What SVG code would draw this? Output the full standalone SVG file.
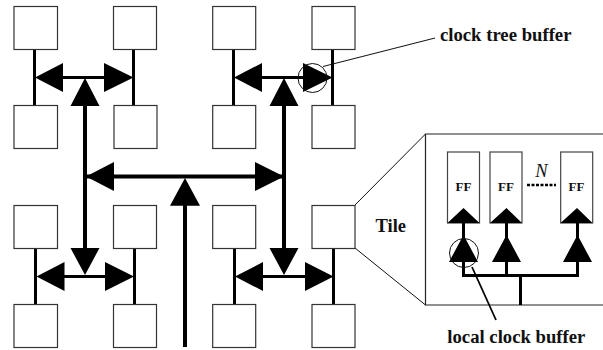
<svg xmlns="http://www.w3.org/2000/svg" width="603" height="350" viewBox="0 0 603 350">
<style>
.tile{fill:#fff;stroke:#333;stroke-width:1.2}
.w{fill:none;stroke:#000;stroke-width:3}
.t{fill:none;stroke:#000;stroke-width:4}
.thin{fill:none;stroke:#111;stroke-width:1}
.h{fill:#000;stroke:none}
.b{font-family:"Liberation Serif","Times New Roman",serif;font-weight:bold;fill:#111}
.ff{fill:#fff;stroke:#444;stroke-width:1.2}
</style>
<g id="connectors">
<path class="w" d="M34.500 49V105M133.500 49V105M233.500 49V105M332.500 49V105M35.500 248V304M134.500 248V304M234.500 248V304M333.500 248V304"/>
<path class="w" d="M50 77.500H120M249 77.500H318M50 276.500H120M249 276.500H318"/>
<path class="t" d="M85 100V260M284 100V260M85 176.500H284M185 200V347"/>
<path class="h" d="M35 77.500L63 63V92ZM133.500 77.500L104 63V92ZM234 77.500L262 63V92ZM332.500 77.500L303 63V92Z"/>
<path class="h" d="M36.500 276.500L64.500 262V291ZM134 276.500L105 262V291ZM235 276.500L263 262V291ZM333.500 276.500L305 262V291Z"/>
<path class="h" d="M85 78L70.500 106H99.500ZM284 78L269.500 106H298.500ZM85 275L70.500 248H99.500ZM284 275L269.500 248H298.500ZM185 178L170 205.700H200Z"/>
<path class="h" d="M86 176.500L114 162V191ZM284 176.500L255 162V191Z"/>
<circle class="thin" cx="312.500" cy="78" r="14.500"/>
<path class="thin" d="M323 66.500L435 38M355 205L425.500 134M355 248L425.500 305"/>
</g>
<g id="tile-1-1"><rect class="tile" x="14" y="6.500" width="43.500" height="43"/></g>
<g id="tile-1-2"><rect class="tile" x="113.500" y="6.500" width="43" height="43"/></g>
<g id="tile-1-3"><rect class="tile" x="212.700" y="6.500" width="43" height="43"/></g>
<g id="tile-1-4"><rect class="tile" x="312" y="6.500" width="43" height="43"/></g>
<g id="tile-2-1"><rect class="tile" x="14" y="105.500" width="43.500" height="43"/></g>
<g id="tile-2-2"><rect class="tile" x="114" y="105.500" width="43" height="43"/></g>
<g id="tile-2-3"><rect class="tile" x="212.700" y="105.500" width="43" height="43"/></g>
<g id="tile-2-4"><rect class="tile" x="312" y="105.500" width="43" height="43"/></g>
<g id="tile-3-1"><rect class="tile" x="14" y="205.500" width="43.500" height="43"/></g>
<g id="tile-3-2"><rect class="tile" x="113.500" y="205.500" width="43" height="43"/></g>
<g id="tile-3-3"><rect class="tile" x="212.700" y="205.500" width="43" height="43"/></g>
<g id="tile-3-4"><rect class="tile" x="312" y="205.500" width="43" height="43"/></g>
<g id="tile-4-1"><rect class="tile" x="14" y="304.500" width="43.500" height="43"/></g>
<g id="tile-4-2"><rect class="tile" x="113.500" y="304.500" width="43" height="43"/></g>
<g id="tile-4-3"><rect class="tile" x="212.700" y="304.500" width="43" height="43"/></g>
<g id="tile-4-4"><rect class="tile" x="312" y="304.500" width="43" height="43"/></g>
<g id="detail">
<path d="M603 134H425.500V305H603" fill="#fff" stroke="#222" stroke-width="1.200"/>
<rect class="ff" x="447.500" y="152" width="32" height="71"/>
<rect class="ff" x="490" y="152" width="32" height="71"/>
<rect class="ff" x="560.700" y="152" width="32" height="71"/>
<path class="w" d="M463.500 223V275.500M506.500 223V275.500M577.500 223V275.500M462 275.500H579M520.500 275.500V305"/>
<path class="h" d="M463.500 208L447.500 223H479.500ZM506.500 208L490 223H522ZM577 208L560.500 223H592.500Z"/>
<path class="h" d="M463.500 235L449 262H478ZM506.500 235L492 262H521ZM577.500 235L563 262H592Z"/>
<circle class="thin" cx="464" cy="253" r="14.500"/>
<path d="M472 267L496 320" fill="none" stroke="#000" stroke-width="1.800"/>
<path d="M527 185H556" fill="none" stroke="#000" stroke-width="2.500" stroke-dasharray="3 1.500"/>
<text class="b" x="463.500" y="190.500" font-size="13" text-anchor="middle">FF</text>
<text class="b" x="506" y="190.500" font-size="13" text-anchor="middle">FF</text>
<text class="b" x="576.500" y="190.500" font-size="13" text-anchor="middle">FF</text>
<text x="541.500" y="177" font-size="18.500" text-anchor="middle" font-family="'Liberation Serif',serif" font-style="italic" fill="#111">N</text>
</g>
<g id="labels">
<text class="b" x="440" y="41" font-size="18.700">clock tree buffer</text>
<text class="b" x="375.500" y="231.500" font-size="18.500">Tile</text>
<text class="b" x="447.300" y="343" font-size="18.700">local clock buffer</text>
</g>
</svg>
